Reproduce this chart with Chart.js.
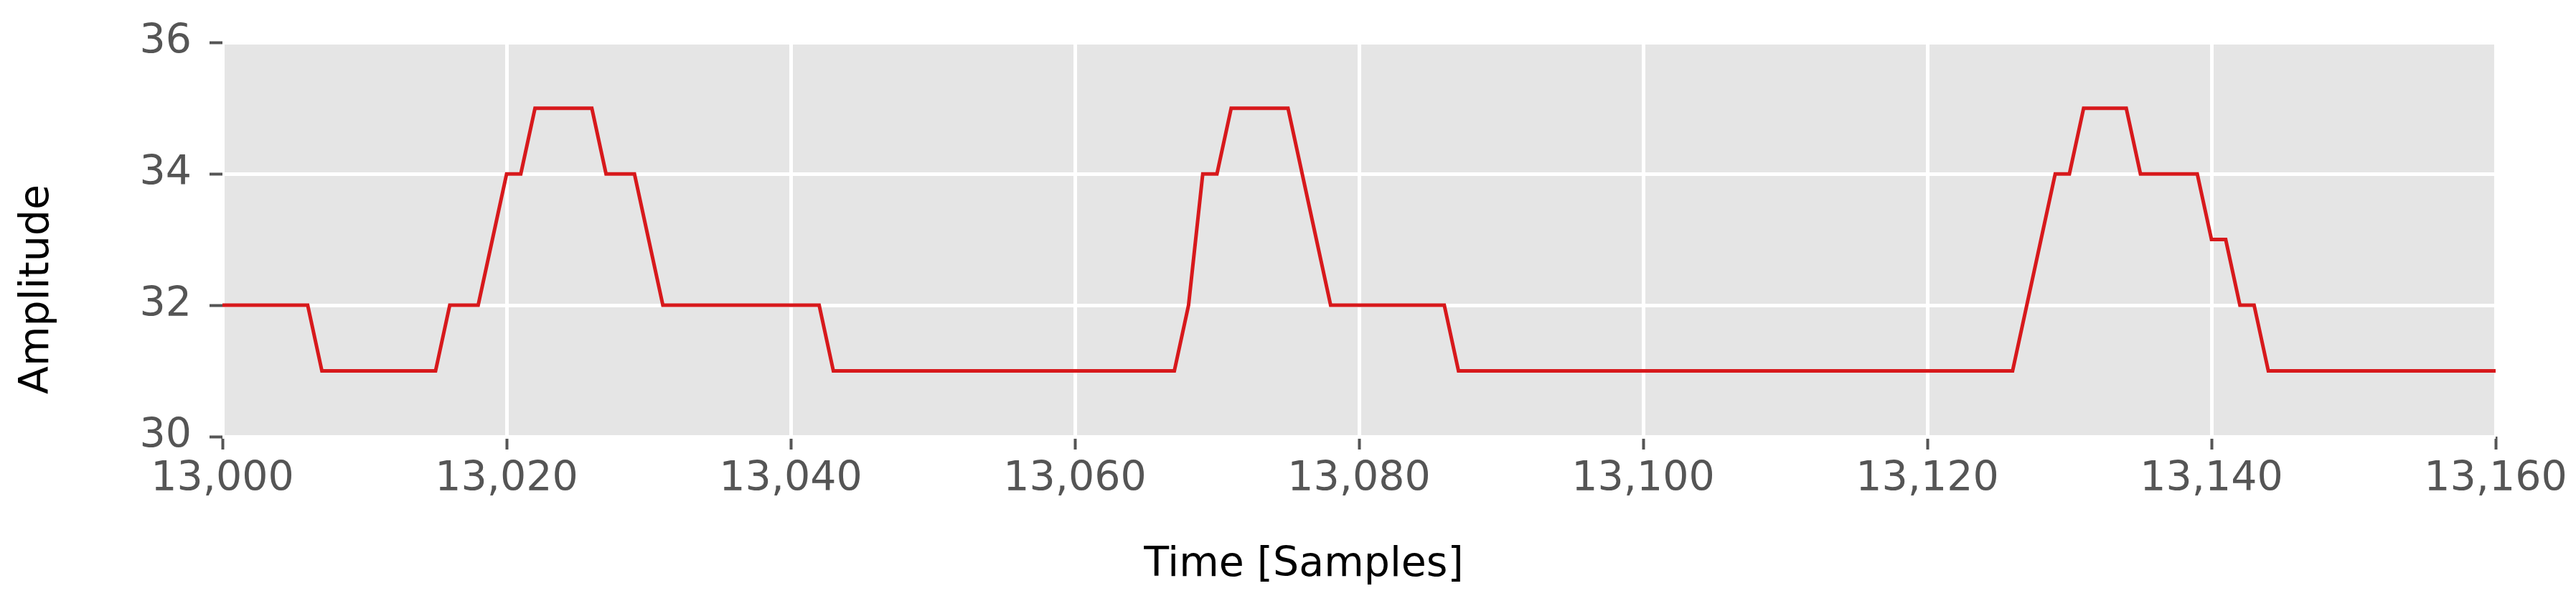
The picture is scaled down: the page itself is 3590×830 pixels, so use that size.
<!DOCTYPE html>
<html>
<head>
<meta charset="utf-8">
<script src="https://cdn.jsdelivr.net/npm/chart.js@4/dist/chart.umd.min.js"></script>
<style>
  html, body { margin: 0; padding: 0; background: #ffffff; }
  canvas { display: block; }
</style>
</head>
<body>
<canvas id="c" width="3590" height="830"></canvas>
<script>
// Sample indices (x)
const samples = [
  13000,13001,13002,13003,13004,13005,13006,13007,13008,13009,
  13010,13011,13012,13013,13014,13015,13016,13017,13018,13019,
  13020,13021,13022,13023,13024,13025,13026,13027,13028,13029,
  13030,13031,13032,13033,13034,13035,13036,13037,13038,13039,
  13040,13041,13042,13043,13044,13045,13046,13047,13048,13049,
  13050,13051,13052,13053,13054,13055,13056,13057,13058,13059,
  13060,13061,13062,13063,13064,13065,13066,13067,13068,13069,
  13070,13071,13072,13073,13074,13075,13076,13077,13078,13079,
  13080,13081,13082,13083,13084,13085,13086,13087,13088,13089,
  13090,13091,13092,13093,13094,13095,13096,13097,13098,13099,
  13100,13101,13102,13103,13104,13105,13106,13107,13108,13109,
  13110,13111,13112,13113,13114,13115,13116,13117,13118,13119,
  13120,13121,13122,13123,13124,13125,13126,13127,13128,13129,
  13130,13131,13132,13133,13134,13135,13136,13137,13138,13139,
  13140,13141,13142,13143,13144,13145,13146,13147,13148,13149,
  13150,13151,13152,13153,13154,13155,13156,13157,13158,13159,
  13160
];
// Amplitude values (y)
const amplitude = [
  32,32,32,32,32,32,32,31,31,31,
  31,31,31,31,31,31,32,32,32,33,
  34,34,35,35,35,35,35,34,34,34,
  33,32,32,32,32,32,32,32,32,32,
  32,32,32,31,31,31,31,31,31,31,
  31,31,31,31,31,31,31,31,31,31,
  31,31,31,31,31,31,31,31,32,34,
  34,35,35,35,35,35,34,33,32,32,
  32,32,32,32,32,32,32,31,31,31,
  31,31,31,31,31,31,31,31,31,31,
  31,31,31,31,31,31,31,31,31,31,
  31,31,31,31,31,31,31,31,31,31,
  31,31,31,31,31,31,31,32,33,34,
  34,35,35,35,35,34,34,34,34,34,
  33,33,32,32,31,31,31,31,31,31,
  31,31,31,31,31,31,31,31,31,31,
  31
];
const xTicks = [13000, 13020, 13040, 13060, 13080, 13100, 13120, 13140, 13160];
const yTicks = [30, 32, 34, 36];
const xLabel = 'Time [Samples]';
const yLabel = 'Amplitude';

const points = samples.map((s, i) => ({ x: s, y: amplitude[i] }));

const FONT = '"DejaVu Sans", "Liberation Sans", sans-serif';

const bgPlugin = {
  id: 'panelBg',
  beforeDraw(chart) {
    const { ctx, chartArea: a } = chart;
    ctx.save();
    ctx.fillStyle = '#e5e5e5';
    ctx.fillRect(a.left, a.top, a.right - a.left, a.bottom - a.top);
    ctx.restore();
  }
};

const axisTitles = {
  id: 'axisTitles',
  afterDraw(chart) {
    const { ctx } = chart;
    ctx.save();
    ctx.fillStyle = '#000000';
    ctx.font = '57px ' + FONT;
    ctx.textAlign = 'center';
    ctx.textBaseline = 'alphabetic';
    ctx.fillText(xLabel, 1817, 802);
    ctx.translate(67, 403);
    ctx.rotate(-Math.PI / 2);
    ctx.fillText(yLabel, 0, 0);
    ctx.restore();
  }
};

new Chart(document.getElementById('c'), {
  type: 'line',
  data: {
    datasets: [{
      data: points,
      borderColor: '#d7191c',
      borderWidth: 5,
      pointRadius: 0,
      tension: 0,
      fill: false
    }]
  },
  options: {
    responsive: false,
    animation: false,
    devicePixelRatio: 1,
    layout: { padding: { left: 0, right: 112, top: 52, bottom: 0 } },
    plugins: { legend: { display: false }, tooltip: { enabled: false } },
    scales: {
      x: {
        type: 'linear',
        min: xTicks[0],
        max: xTicks[xTicks.length - 1],
        afterBuildTicks(scale) { scale.ticks = xTicks.map(v => ({ value: v })); },
        afterFit(scale) { scale.height = 830 - 608; },
        border: { display: false },
        grid: {
          color: '#ffffff',
          lineWidth: 5,
          drawTicks: true,
          tickLength: 18,
          tickColor: '#555555',
          tickWidth: 4
        },
        ticks: {
          color: '#555555',
          font: { family: FONT, size: 57 },
          padding: 8,
          maxRotation: 0,
          autoSkip: false,
          callback: v => Number(v).toLocaleString('en-US')
        }
      },
      y: {
        type: 'linear',
        min: yTicks[0],
        max: yTicks[yTicks.length - 1],
        afterBuildTicks(scale) { scale.ticks = yTicks.map(v => ({ value: v })); },
        afterFit(scale) { scale.width = 310; },
        border: { display: false },
        grid: {
          color: '#ffffff',
          lineWidth: 5,
          drawTicks: true,
          tickLength: 18,
          tickColor: '#555555',
          tickWidth: 4
        },
        ticks: {
          color: '#555555',
          font: { family: FONT, size: 57 },
          padding: 25,
          autoSkip: false
        }
      }
    }
  },
  plugins: [bgPlugin, axisTitles]
});
</script>
</body>
</html>
